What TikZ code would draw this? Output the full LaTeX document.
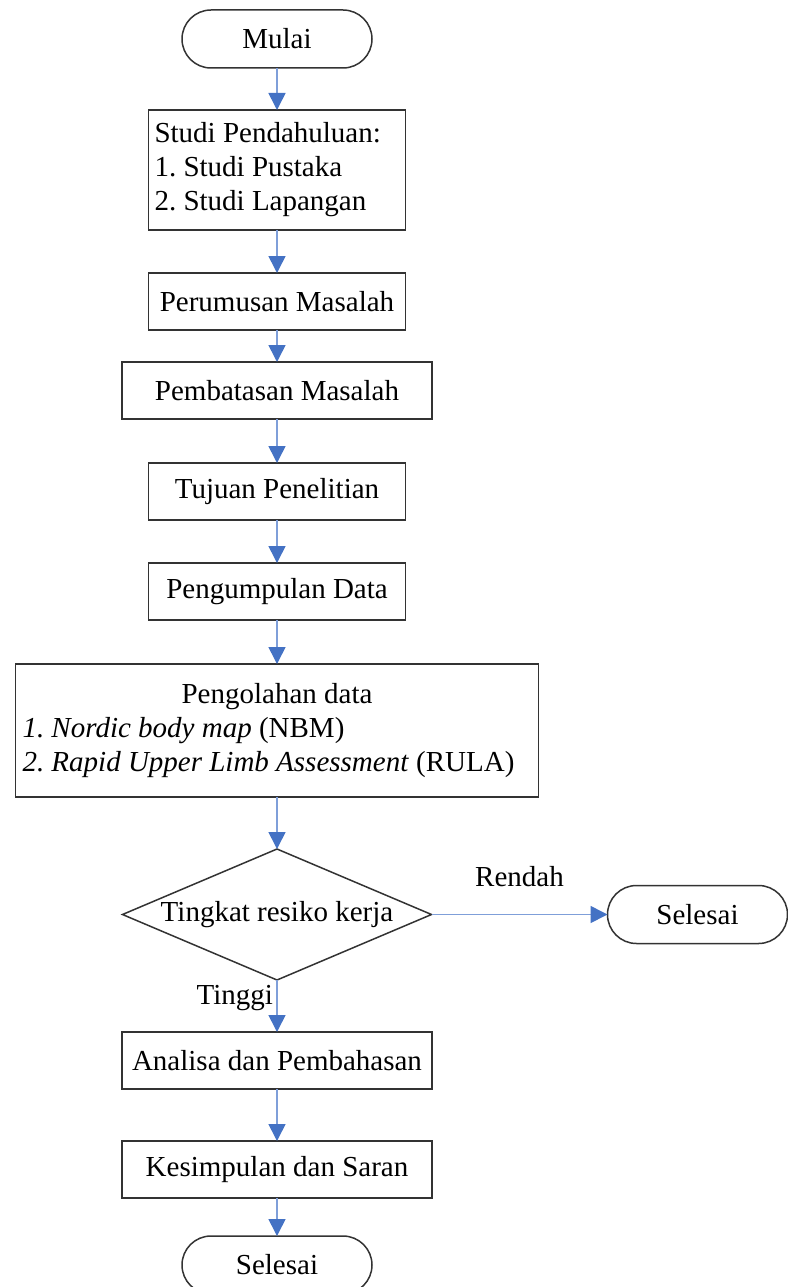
\documentclass[tikz,border=0pt]{standalone}
\usepackage{fontspec}
\setmainfont{Liberation Serif}
\usetikzlibrary{shapes.geometric,positioning,arrows.meta}
\definecolor{tipblue}{HTML}{4472C4}
\definecolor{lineblue}{HTML}{7F9FD9}

\begin{document}
\begin{tikzpicture}[node distance=43pt,
	every node/.style={font=\fontsize{29}{34}\selectfont\frenchspacing},
	terminal/.style={draw=black!80, line width=1.5pt, outer sep=0pt, rounded corners=29pt, minimum width=190pt, minimum height=58pt},
	proc/.style={draw=black!80, line width=1.5pt, outer sep=0pt, inner sep=4pt, minimum width=257pt, minimum height=57pt},
	wideproc/.style={proc, minimum width=310pt},
	decision/.style={diamond, draw=black!80, line width=1.5pt, outer sep=0pt, inner sep=0pt, aspect=2.36, minimum width=309pt, minimum height=131pt},
	flow/.style={draw=lineblue, line width=1.6pt, -{Triangle[width=17pt,length=17pt,color=tipblue]}}]
	\useasboundingbox (0pt,0pt) rectangle (787pt,-1287pt);
	\node[terminal] (mulai) at (277pt,-39pt) {Mulai};
	\node[proc, minimum height=120pt, inner sep=6pt, text width=245pt, align=flush left] (studi) [below=42pt of mulai]
		{Studi Pendahuluan:\\1. Studi Pustaka\\2. Studi Lapangan};
	\node[proc] (perumusan) [below=of studi] {Perumusan Masalah};
	\node[wideproc] (pembatasan) [below=32pt of perumusan] {Pembatasan Masalah};
	\node[proc] (tujuan) [below=44pt of pembatasan] {Tujuan Penelitian};
	\node[proc] (pengumpulan) [below=of tujuan] {Pengumpulan Data};
	\node[proc, inner sep=7pt, text width=509pt, align=flush left, minimum height=133pt] (pengolahan) [below=44pt of pengumpulan]
		{\makebox[509pt]{Pengolahan data}\\\textit{1. Nordic body map} (NBM)\\\textit{2. Rapid Upper Limb Assessment} (RULA)};
	\node[decision] (tingkat) [below=52pt of pengolahan] {Tingkat resiko kerja};
	\node[terminal, minimum width=180pt] (selesai_r) [right=176pt of tingkat] {Selesai};
	\node[wideproc] (analisa) [below=52pt of tingkat] {Analisa dan Pembahasan};
	\node[wideproc] (kesimpulan) [below=52pt of analisa] {Kesimpulan dan Saran};
	\node[terminal] (selesai) [below=38pt of kesimpulan] {Selesai};
	\path[flow]
	(mulai) edge (studi)
	(studi) edge (perumusan)
	(perumusan) edge (pembatasan)
	(pembatasan) edge (tujuan)
	(tujuan) edge (pengumpulan)
	(pengumpulan) edge (pengolahan)
	(pengolahan) edge (tingkat)
	(tingkat) edge node[above=24pt] {Rendah} (selesai_r)
	edge node[left, pos=0.35] {Tinggi} (analisa)
	(analisa) edge (kesimpulan)
	(kesimpulan) edge (selesai);
\end{tikzpicture}
\end{document}
